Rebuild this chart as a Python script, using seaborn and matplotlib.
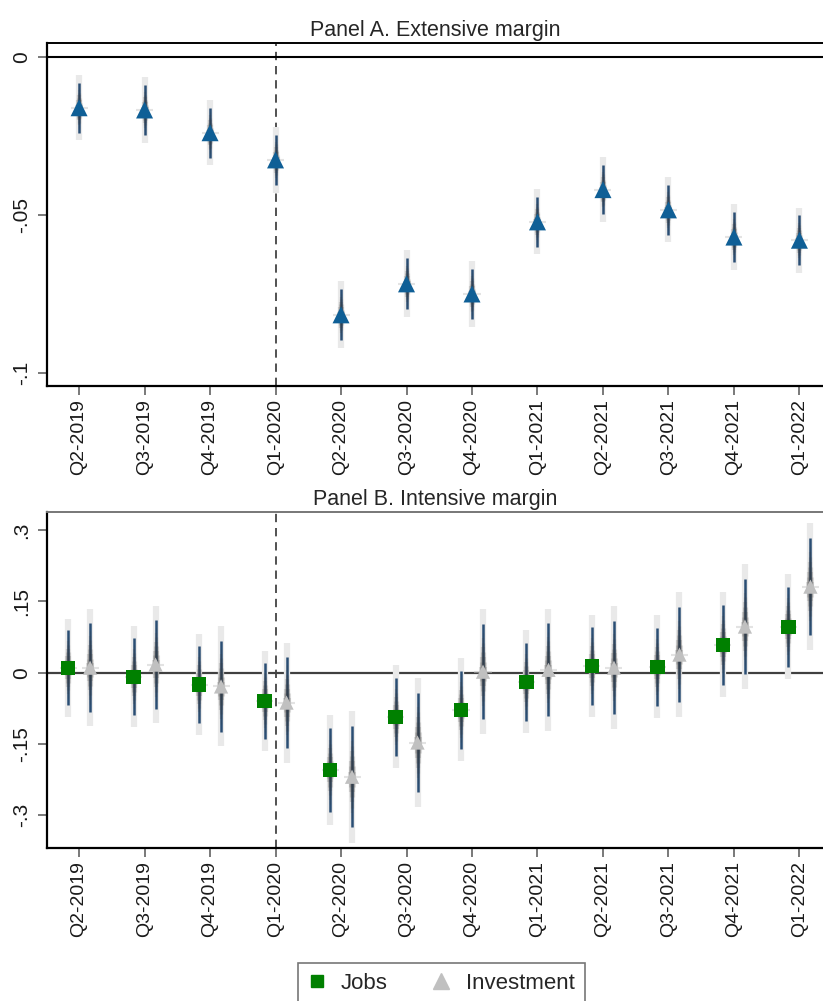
import numpy as np
import pandas as pd
import matplotlib
matplotlib.use("Agg")
import matplotlib.pyplot as plt
from matplotlib.lines import Line2D
import seaborn as sns

# quarters on the x axis
quarters = ["Q2-2019", "Q3-2019", "Q4-2019", "Q1-2020", "Q2-2020", "Q3-2020",
            "Q4-2020", "Q1-2021", "Q2-2021", "Q3-2021", "Q4-2021", "Q1-2022"]

# Panel A: extensive margin (point estimate, standard error)
ext_coef = [-0.0161, -0.0168, -0.0240, -0.0326, -0.0816, -0.0718,
            -0.0750, -0.0522, -0.0420, -0.0484, -0.0570, -0.0580]
ext_se = [0.0040, 0.0040, 0.0040, 0.0041, 0.0041, 0.0041,
          0.0041, 0.0040, 0.0040, 0.0040, 0.0040, 0.0040]

# Panel B: intensive margin
jobs_coef = [0.0105, -0.0084, -0.0250, -0.0590, -0.2040, -0.0926,
             -0.0780, -0.0190, 0.0140, 0.0126, 0.0590, 0.0968]
jobs_se = [0.040, 0.041, 0.041, 0.041, 0.045, 0.042,
           0.042, 0.042, 0.042, 0.042, 0.043, 0.043]
inv_coef = [0.0105, 0.0170, -0.0290, -0.0630, -0.2190, -0.1470,
            0.0020, 0.0060, 0.0105, 0.0380, 0.0970, 0.1810]
inv_se = [0.048, 0.048, 0.049, 0.049, 0.054, 0.053,
          0.051, 0.050, 0.050, 0.051, 0.051, 0.052]

ya_ticks = [0, -0.05, -0.1]
ya_labels = ["0", "-.05", "-.1"]
yb_ticks = [0.3, 0.15, 0, -0.15, -0.3]
yb_labels = [".3", ".15", "0", "-.15", "-.3"]

sns.set_style("white")
plt.rcParams["font.family"] = ["Liberation Sans", "DejaVu Sans"]

CI_LIGHT = "#e9e9e9"
CI_DARK = "#2a4e74"
SPINDLE = "#3a3a3a"


def draw_ci(ax, x, y, se):
    """Outer 99% band, inner 95% line and a tapered spindle around the estimate."""
    x = np.asarray(x, dtype=float)
    y = np.asarray(y, dtype=float)
    se = np.asarray(se, dtype=float)
    ax.vlines(x, y - 2.576 * se, y + 2.576 * se, color=CI_LIGHT, lw=4.5, zorder=1)
    ax.vlines(x, y - 1.96 * se, y + 1.96 * se, color=CI_DARK, lw=1.8, zorder=2)
    for k in np.linspace(0.2, 1.6, 8):
        ax.vlines(x, y - k * se, y + k * se, color=SPINDLE,
                  lw=6.5 * (1 - k / 1.9), alpha=0.15, zorder=2)
    ax.hlines(y, x - 0.13, x + 0.13, color="#c8c8c8", lw=1.5, alpha=0.5, zorder=2)


def style_axis(ax, yticks, ylabels, ylim, top_color):
    ax.set_xlim(-0.49, 11.36)
    ax.set_ylim(*ylim)
    ax.set_xticks(range(len(quarters)))
    ax.set_xticklabels(quarters, rotation=90, fontsize=14, color="#1a1a1a")
    ax.set_yticks(yticks)
    ax.set_yticklabels(ylabels, rotation=90, va="center", fontsize=15, color="#1a1a1a")
    ax.tick_params(axis="both", direction="out", length=6.5, width=1.1, color="#555555",
                   bottom=True, left=True)
    ax.tick_params(axis="x", pad=3)
    ax.tick_params(axis="y", pad=5)
    for side in ["left", "bottom"]:
        ax.spines[side].set_color("black")
        ax.spines[side].set_linewidth(1.6)
    ax.spines["top"].set_color(top_color)
    ax.spines["top"].set_linewidth(1.4)
    ax.spines["right"].set_visible(False)
    ax.axvline(3, color="#333333", ls=(0, (5, 3.5)), lw=1.2, zorder=0)
    ax.set_xlabel("")
    ax.set_ylabel("")


fig = plt.figure(figsize=(8.23, 10.01), dpi=100)
ax_a = fig.add_axes([0.0571, 0.6144, 0.9429, 0.3427])
ax_b = fig.add_axes([0.0571, 0.1528, 0.9429, 0.3357])

# Panel A
pos = np.arange(len(quarters))
df_a = pd.DataFrame({"x": pos, "coef": ext_coef})
ax_a.axhline(0, color="black", lw=1.5, zorder=1)
draw_ci(ax_a, pos, ext_coef, ext_se)
sns.scatterplot(data=df_a, x="x", y="coef", marker="^", s=150, color="#0f5f96",
                edgecolor="none", zorder=4, ax=ax_a, legend=False)
style_axis(ax_a, ya_ticks, ya_labels, (-0.1041, 0.0044), "black")
ax_a.set_title("Panel A. Extensive margin", fontsize=15.5, pad=5)

# Panel B
off = 0.168
df_b = pd.DataFrame({
    "x": np.concatenate([pos - off, pos + off]),
    "coef": jobs_coef + inv_coef,
    "series": ["Jobs"] * len(pos) + ["Investment"] * len(pos),
})
ax_b.axhline(0, color="#404040", lw=1.6, zorder=1)
draw_ci(ax_b, pos - off, jobs_coef, jobs_se)
draw_ci(ax_b, pos + off, inv_coef, inv_se)
sns.scatterplot(data=df_b, x="x", y="coef", hue="series", style="series",
                markers={"Jobs": "s", "Investment": "^"},
                palette={"Jobs": "#008000", "Investment": "#c0c0c0"},
                s=105, edgecolor="none", zorder=4, ax=ax_b, legend=False)
style_axis(ax_b, yb_ticks, yb_labels, (-0.369, 0.338), "#777777")
ax_b.set_title("Panel B. Intensive margin", fontsize=15.5, pad=5)

handles = [
    Line2D([], [], marker="s", color="#008000", ls="none", markersize=8),
    Line2D([], [], marker="^", color="#c0c0c0", ls="none", markersize=11),
]
leg = fig.legend(handles, ["Jobs", "Investment"], loc="upper center",
                 bbox_to_anchor=(0.536, 0.038), borderaxespad=0, ncol=2,
                 fontsize=16, frameon=True, fancybox=False, handletextpad=0.7,
                 columnspacing=2.0, borderpad=0.45, handlelength=0.8)
leg.get_frame().set_edgecolor("#555555")
leg.get_frame().set_linewidth(1.2)

fig.savefig("out.png", dpi=100)
